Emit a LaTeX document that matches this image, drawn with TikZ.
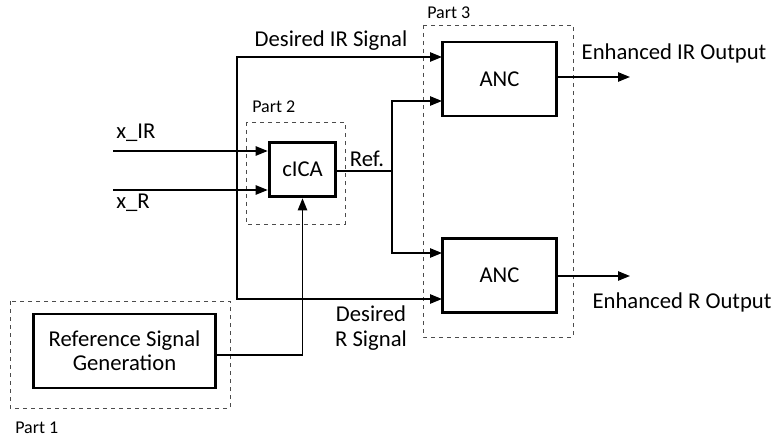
\documentclass[tikz,border=0pt]{standalone}
\usepackage{fontspec}
\setmainfont{Carlito}
\usetikzlibrary{arrows.meta}

\tikzset{
  block/.style={draw, line width=2.2pt, minimum width=#1, align=center, font=\fontsize{17}{20}\selectfont},
  partbox/.style={draw=black!70, dashed, line width=0.6pt},
  sig/.style={line width=1.1pt, -{Triangle[length=9pt,width=7pt]}},
  wire/.style={line width=1.1pt},
  lbl/.style={font=\fontsize{17}{20}\selectfont, align=center, inner sep=0pt},
  partlbl/.style={font=\fontsize{13.5}{15}\selectfont, anchor=west, inner sep=0pt}
}

\begin{document}
\begin{tikzpicture}[x=0.75pt, y=-0.75pt]
  \useasboundingbox (0,0) rectangle (773,438);

  % Dashed part boxes
  \draw[partbox] (10,301) rectangle (230,408);
  \draw[partbox] (246,122) rectangle (345,224);
  \draw[partbox] (423,25) rectangle (573,337);
  \node[partlbl] (part1) at (15,428) {Part 1};
  \node[partlbl] (part2) at (252,107) {Part 2};
  \node[partlbl] (part3) at (427,13) {Part 3};

  % Blocks
  \node[block=137pt, minimum height=55.5pt] (rsg) at (124.5,351) {Reference Signal\\[-2pt]Generation};
  \node[block=50pt, minimum height=41pt] (cica) at (302.5,169.5) {cICA};
  \node[block=86pt, minimum height=55.5pt] (ancir) at (499.5,79) {ANC};
  \node[block=86pt, minimum height=56pt] (ancr) at (499.5,275.5) {ANC};

  % Inputs
  \coordinate (xir) at (113,151);
  \coordinate (xr) at (113,190);
  \coordinate (split) at (237,151);
  \node[lbl, anchor=west] (lxir) at (116,133) {x\_IR};
  \node[lbl, anchor=west] (lxr) at (116,203) {x\_R};
  \draw[sig] (xir) -- (xir -| cica.west);
  \draw[sig] (xr) -- (xr -| cica.west);

  % Desired signals
  \coordinate (dirin) at (442,57);
  \coordinate (drin) at (442,299);
  \draw[sig] (split) |- (dirin);
  \draw[sig] (split) |- (drin);
  \node[lbl] (ldir) at (331,41) {Desired IR Signal};
  \node[lbl] (ldr) at (371,328) {Desired\\[-1pt]R Signal};

  % Reference
  \coordinate (refj) at (392,171);
  \coordinate (refir) at (442,101);
  \coordinate (refr) at (442,253);
  \draw[wire] (cica.east |- refj) -- (refj);
  \draw[sig] (refj) |- (refir);
  \draw[sig] (refj) |- (refr);
  \node[lbl] (lref) at (367,159) {Ref.};
  \draw[sig] (rsg.east |- 0,355) -| (cica.south);

  % Outputs
  \coordinate (outir) at (630,77);
  \coordinate (outr) at (630,276);
  \draw[sig] (ancir.east |- outir) -- (outir);
  \draw[sig] (ancr.east |- outr) -- (outr);
  \node[lbl] (lout1) at (674,53) {Enhanced IR Output};
  \node[lbl] (lout2) at (682,302) {Enhanced R Output};
\end{tikzpicture}
\end{document}
